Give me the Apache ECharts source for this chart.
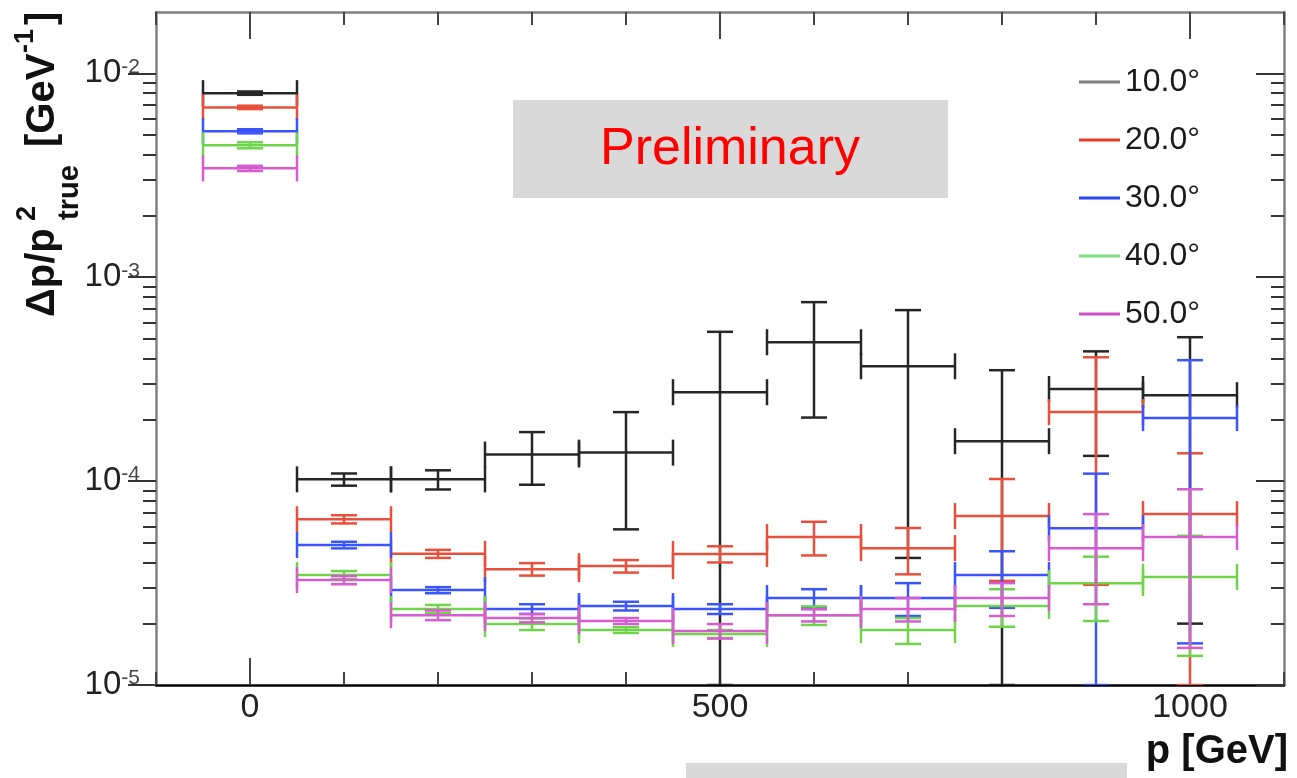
<!DOCTYPE html>
<html>
<head>
<meta charset="UTF-8">
<title>Momentum resolution vs p</title>
<script src="https://cdn.jsdelivr.net/npm/echarts@6/dist/echarts.min.js"></script>
<style>
  html, body { margin: 0; padding: 0; background: #fff; }
  #main { width: 1297px; height: 778px; }
</style>
</head>
<body>
<div id="main"></div>
<script>
// bin centres (GeV) and half width of each bin
const momenta = [0, 100, 200, 300, 400, 500, 600, 700, 800, 900, 1000];
const binHalfWidth = 50;

const angleNames = ['10.0°', '20.0°', '30.0°', '40.0°', '50.0°'];

// dp/p^2 values and symmetric errors per polar angle
const res10 = [8.0e-3, 1.02e-4, 1.02e-4, 1.35e-4, 1.38e-4, 2.73e-4, 4.8e-4, 3.66e-4, 1.57e-4, 2.83e-4, 2.64e-4];
const err10 = [1.5e-4, 7e-6, 1.1e-5, 3.9e-5, 8.0e-5, 2.67e-4, 2.75e-4, 3.24e-4, 1.93e-4, 1.5e-4, 2.44e-4];

const res20 = [6.81e-3, 6.5e-5, 4.4e-5, 3.7e-5, 3.83e-5, 4.39e-5, 5.32e-5, 4.69e-5, 6.74e-5, 2.18e-4, 6.89e-5];
const err20 = [1.3e-4, 3e-6, 2e-6, 2.6e-6, 2.7e-6, 4e-6, 1.0e-5, 1.2e-5, 3.5e-5, 1.87e-4, 6.8e-5];

const res30 = [5.2e-3, 4.86e-5, 2.92e-5, 2.36e-5, 2.44e-5, 2.36e-5, 2.67e-5, 2.67e-5, 3.46e-5, 5.88e-5, 2.04e-4];
const err30 = [1.2e-4, 1.8e-6, 1.0e-6, 1.3e-6, 1.2e-6, 1.3e-6, 2.8e-6, 4.9e-6, 1.07e-5, 5.0e-5, 1.88e-4];

const res40 = [4.44e-3, 3.46e-5, 2.36e-5, 1.99e-5, 1.86e-5, 1.78e-5, 2.2e-5, 1.86e-5, 2.44e-5, 3.16e-5, 3.39e-5];
const err40 = [1.5e-4, 1.6e-6, 1.1e-6, 1.3e-6, 0.6e-6, 0.8e-6, 2.3e-6, 2.7e-6, 5.1e-6, 1.1e-5, 2.0e-5];

const res50 = [3.42e-3, 3.27e-5, 2.2e-5, 2.13e-5, 2.06e-5, 1.84e-5, 2.2e-5, 2.36e-5, 2.67e-5, 4.69e-5, 5.32e-5];
const err50 = [1.0e-4, 1.5e-6, 1.2e-6, 1.0e-6, 0.7e-6, 1.5e-6, 1.5e-6, 3.1e-6, 4.9e-6, 2.2e-5, 3.8e-5];

// axis ticks
const xMinorTicks = [-100, 0, 100, 200, 300, 400, 500, 600, 700, 800, 900, 1000, 1100];
const xMajorTicks = [0, 500, 1000];
const yDecades = [1e-5, 1e-4, 1e-3, 1e-2];
const yMantissas = [2, 3, 4, 5, 6, 7, 8, 9];

const Y_MIN = 1e-5, Y_MAX = 2e-2;
const lineColors = ['#262626', '#e8503c', '#3a55fb', '#6fd44a', '#d65ccf'];
const legendColors = ['#7f7f7f', '#e33b22', '#2a46f5', '#80e080', '#cf4fc8'];

const yMinorTicks = [];
yDecades.forEach(d => yMantissas.forEach(m => {
  if (d * m < Y_MAX) yMinorTicks.push(d * m);
}));

const allRes = [res10, res20, res30, res40, res50];
const allErr = [err10, err20, err30, err40, err50];

const chart = echarts.init(document.getElementById('main'), null, { renderer: 'canvas' });

function errorBar(params, api) {
  const x = api.value(0), y = api.value(1), e = api.value(2);
  const c = api.coord([x, y]);
  const l = api.coord([x - binHalfWidth, y]);
  const r = api.coord([x + binHalfWidth, y]);
  const t = api.coord([x, Math.min(y + e, Y_MAX)]);
  const b = api.coord([x, Math.max(y - e, Y_MIN)]);
  const cap = 13;
  const style = { stroke: api.visual('color'), lineWidth: 2.5 };
  const seg = (x1, y1, x2, y2) => ({ type: 'line', shape: { x1, y1, x2, y2 }, style });
  return {
    type: 'group',
    children: [
      seg(l[0], c[1], r[0], c[1]),
      seg(l[0], c[1] - cap, l[0], c[1] + cap),
      seg(r[0], c[1] - cap, r[0], c[1] + cap),
      seg(c[0], t[1], c[0], b[1]),
      seg(c[0] - cap, t[1], c[0] + cap, t[1]),
      seg(c[0] - cap, b[1], c[0] + cap, b[1])
    ]
  };
}

const fontFam = '"Liberation Sans", Arial, sans-serif';

function xAxisDef(pos, ticks, len, showLine, showLabel) {
  return {
    type: 'value', min: -100, max: 1100, position: pos,
    axisLine: { show: showLine, onZero: false,
      lineStyle: { color: pos === 'bottom' ? '#000' : '#808080', width: 2.5 } },
    axisTick: { show: true, inside: true, length: len, customValues: ticks,
      lineStyle: { color: '#444', width: 2 } },
    axisLabel: { show: showLabel, customValues: xMajorTicks, fontSize: 34, color: '#222', margin: 6,
      fontFamily: fontFam, formatter: v => String(v) },
    splitLine: { show: false }
  };
}

// the left log axes drew their ticks outward with inside:true, so flip the flag there
function yAxisDef(pos, ticks, len, showLine, showLabel) {
  return {
    type: 'log', logBase: 10, min: Y_MIN, max: Y_MAX, position: pos,
    axisLine: { show: showLine, onZero: false, lineStyle: { color: '#808080', width: 2.5 } },
    axisTick: { show: true, inside: pos !== 'left', length: len, customValues: ticks,
      lineStyle: { color: '#333', width: 2 } },
    axisLabel: {
      show: showLabel, customValues: yDecades, margin: 16,
      formatter: v => '{m|10}{s|' + Math.round(Math.log10(v)) + '}',
      rich: {
        m: { fontSize: 33, color: '#222', fontFamily: fontFam, lineHeight: 34 },
        s: { fontSize: 21, color: '#444', fontFamily: fontFam, verticalAlign: 'top', lineHeight: 20 }
      }
    },
    splitLine: { show: false }
  };
}

const series = angleNames.map((name, k) => ({
  name: name,
  type: 'custom',
  renderItem: errorBar,
  clip: true,
  itemStyle: { color: lineColors[k] },
  encode: { x: 0, y: 1 },
  data: momenta.map((p, i) => [p, allRes[k][i], allErr[k][i]]),
  z: 3 + k
}));

chart.setOption({
  animation: false,
  backgroundColor: '#fff',
  textStyle: { fontFamily: fontFam },
  grid: { left: 156, right: 13, top: 12, bottom: 93 },
  xAxis: [
    xAxisDef('bottom', xMinorTicks, 13, true, true),
    xAxisDef('bottom', xMajorTicks, 27, false, false),
    xAxisDef('top', xMinorTicks, 13, true, false),
    xAxisDef('top', xMajorTicks, 27, false, false)
  ],
  yAxis: [
    yAxisDef('left', yMinorTicks, 13, true, true),
    yAxisDef('left', yDecades, 28, false, false),
    yAxisDef('right', yMinorTicks, 13, true, false),
    yAxisDef('right', yDecades, 28, false, false)
  ],
  legend: {
    orient: 'vertical', left: 1079, top: 66, padding: 0,
    itemWidth: 41, itemHeight: 3, itemGap: 26, icon: 'rect',
    selectedMode: false,
    textStyle: { fontSize: 32, lineHeight: 32, color: '#1a1a1a', fontFamily: fontFam },
    data: angleNames.map((n, k) => ({ name: n, itemStyle: { color: legendColors[k] } }))
  },
  graphic: [
    { type: 'rect', shape: { x: 513, y: 100, width: 435, height: 98 }, style: { fill: '#d9d9d9' }, z: 1 },
    { type: 'text', x: 730, y: 150, z: 2,
      style: { text: 'Preliminary', fill: '#ff0000', fontSize: 52, fontFamily: fontFam,
        align: 'center', verticalAlign: 'middle' } },
    { type: 'rect', shape: { x: 686, y: 763, width: 441, height: 20 }, style: { fill: '#d9d9d9' }, z: 1 },
    { type: 'text', x: 1288, y: 752, z: 2,
      style: { text: 'p [GeV]', fill: '#111', fontSize: 40, fontWeight: 'bold', fontFamily: fontFam,
        align: 'right', verticalAlign: 'middle' } },
    { type: 'group', x: 57, y: 317, rotation: Math.PI / 2, z: 2,
      children: [
        { type: 'text', x: 0, y: -14,
          style: { text: 'Δp/p', fill: '#111', fontSize: 40, fontWeight: 'bold', fontFamily: fontFam,
            align: 'left', verticalAlign: 'middle' } },
        { type: 'text', x: 96, y: -29,
          style: { text: '2', fill: '#111', fontSize: 27, fontWeight: 'bold', fontFamily: fontFam,
            align: 'left', verticalAlign: 'middle' } },
        { type: 'text', x: 97, y: 13,
          style: { text: 'true', fill: '#111', fontSize: 29, fontWeight: 'bold', fontFamily: fontFam,
            align: 'left', verticalAlign: 'middle' } },
        { type: 'text', x: 170, y: -14,
          style: { text: '[GeV', fill: '#111', fontSize: 40, fontWeight: 'bold', fontFamily: fontFam,
            align: 'left', verticalAlign: 'middle' } },
        { type: 'text', x: 264, y: -31,
          style: { text: '-1', fill: '#111', fontSize: 27, fontWeight: 'bold', fontFamily: fontFam,
            align: 'left', verticalAlign: 'middle' } },
        { type: 'text', x: 292, y: -14,
          style: { text: ']', fill: '#111', fontSize: 40, fontWeight: 'bold', fontFamily: fontFam,
            align: 'left', verticalAlign: 'middle' } }
      ] }
  ],
  series: series
});
</script>
</body>
</html>
